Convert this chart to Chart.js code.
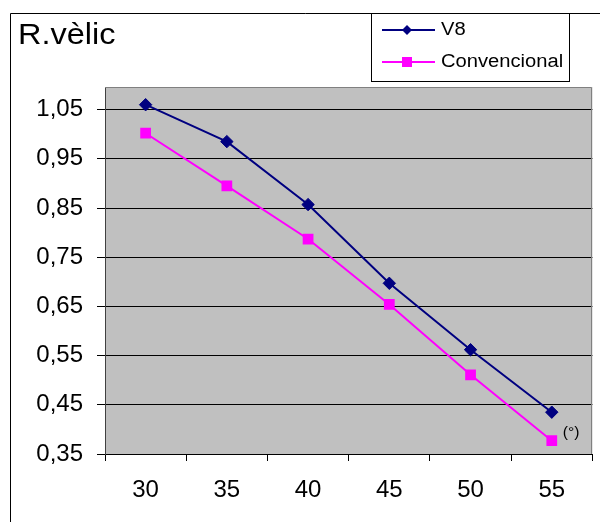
<!DOCTYPE html>
<html><head><meta charset="utf-8">
<script src="https://cdn.jsdelivr.net/npm/chart.js@4"></script>
<style>html,body{margin:0;padding:0;background:#fff}#wrap{width:600px;height:522px}</style>
</head><body><div id="wrap"><canvas id="c" width="600" height="522"></canvas></div>
<script>
const categories = ['30', '35', '40', '45', '50', '55'];
const v8Values = [1.060, 0.985, 0.857, 0.697, 0.562, 0.435];
const convValues = [1.002, 0.895, 0.787, 0.654, 0.511, 0.377];
const yTickValues = [0.35, 0.45, 0.55, 0.65, 0.75, 0.85, 0.95, 1.05];
const seriesNames = ['V8', 'Convencional'];
const yTitle = 'R.vèlic';
const xUnit = '(°)';

const FONT = '"Liberation Sans", Arial, sans-serif';
const NAVY = '#000080';
const MAGENTA = '#FF00FF';
const STRETCH = 1.12;

function wideText(ctx, text, x, y) {
  ctx.save();
  ctx.translate(x, y);
  ctx.scale(STRETCH, 1);
  ctx.fillText(text, 0, 0);
  ctx.restore();
}

const decor = {
  id: 'decor',
  beforeDraw(chart) {
    const {ctx, chartArea: a} = chart;
    ctx.save();
    ctx.fillStyle = '#C0C0C0';
    ctx.fillRect(a.left, a.top, a.right - a.left, a.bottom - a.top);
    ctx.restore();
  },
  afterDraw(chart) {
    const {ctx, chartArea: a} = chart;
    ctx.save();
    ctx.strokeStyle = '#808080';
    ctx.lineWidth = 1;
    ctx.beginPath();
    ctx.moveTo(a.left, Math.round(a.top) + 0.5);
    ctx.lineTo(Math.round(a.right) - 0.5, Math.round(a.top) + 0.5);
    ctx.lineTo(Math.round(a.right) - 0.5, a.bottom);
    ctx.stroke();
    ctx.strokeStyle = '#000';
    ctx.beginPath();
    ctx.moveTo(10.5, 530);
    ctx.lineTo(10.5, 13.5);
    ctx.lineTo(610, 13.5);
    ctx.stroke();
    ctx.fillStyle = '#000';
    ctx.font = '29px ' + FONT;
    ctx.textBaseline = 'alphabetic';
    ctx.textAlign = 'left';
    wideText(ctx, yTitle, 18, 44);
    const xs = chart.scales.x, ys = chart.scales.y;
    ctx.font = '14px ' + FONT;
    wideText(ctx, xUnit, xs.getPixelForValue(categories.length - 1) + 11, ys.getPixelForValue(0.385));
    ctx.fillStyle = '#fff';
    ctx.fillRect(371, 13, 198, 68);
    ctx.strokeStyle = '#000';
    ctx.strokeRect(371.5, 13.5, 198, 68);
    const rows = [30, 62];
    chart.data.datasets.forEach((ds, i) => {
      const y = rows[i];
      ctx.strokeStyle = ds.borderColor;
      ctx.lineWidth = 2;
      ctx.beginPath();
      ctx.moveTo(382, y);
      ctx.lineTo(435, y);
      ctx.stroke();
      ctx.fillStyle = ds.backgroundColor;
      if (ds.pointStyle === 'rectRot') {
        ctx.beginPath();
        ctx.moveTo(407, y - 5); ctx.lineTo(412, y); ctx.lineTo(407, y + 5); ctx.lineTo(402, y);
        ctx.closePath(); ctx.fill();
      } else {
        ctx.fillRect(402, y - 5, 10, 10);
      }
      ctx.fillStyle = '#000';
      ctx.font = '18px ' + FONT;
      ctx.textBaseline = 'middle';
      wideText(ctx, ds.label, 441, y);
    });
    ctx.restore();
  }
};

new Chart(document.getElementById('c'), {
  type: 'line',
  data: {
    labels: categories,
    datasets: [
      {
        label: seriesNames[0], data: v8Values,
        borderColor: NAVY, backgroundColor: NAVY, borderWidth: 2,
        pointStyle: 'rectRot', pointRadius: 6.2, pointHoverRadius: 6.2,
        pointBorderWidth: 1, pointBorderColor: NAVY, pointBackgroundColor: NAVY,
        tension: 0
      },
      {
        label: seriesNames[1], data: convValues,
        borderColor: MAGENTA, backgroundColor: MAGENTA, borderWidth: 2,
        pointStyle: 'rect', pointRadius: 7.6, pointHoverRadius: 7.6,
        pointBorderWidth: 0, pointBackgroundColor: MAGENTA,
        tension: 0
      }
    ]
  },
  options: {
    responsive: false,
    animation: false,
    devicePixelRatio: 1,
    layout: {padding: {left: 0, top: 87, right: 7, bottom: 0}},
    plugins: {legend: {display: false}, tooltip: {enabled: false}, title: {display: false}},
    scales: {
      x: {
        type: 'category',
        offset: true,
        grid: {display: true, drawOnChartArea: false, offset: true, drawTicks: true, tickLength: 7, color: '#000'},
        border: {display: true, color: '#000', width: 1},
        ticks: {color: '#000', font: {family: FONT, size: 24}, padding: 15, maxRotation: 0, autoSkip: false},
        afterFit(s) { s.height = 68; }
      },
      y: {
        type: 'linear',
        min: 0.35, max: 1.096,
        afterBuildTicks(s) { s.ticks = yTickValues.map(v => ({value: v})); },
        grid: {color: '#000', lineWidth: 1, tickLength: 8, drawTicks: true},
        border: {display: true, color: '#404040', width: 1},
        ticks: {
          color: '#000', font: {family: FONT, size: 24}, padding: 14,
          callback: v => Number(v).toFixed(2).replace('.', ',')
        },
        afterFit(s) { s.width = 105; }
      }
    }
  },
  plugins: [decor]
});
</script>
</body></html>
